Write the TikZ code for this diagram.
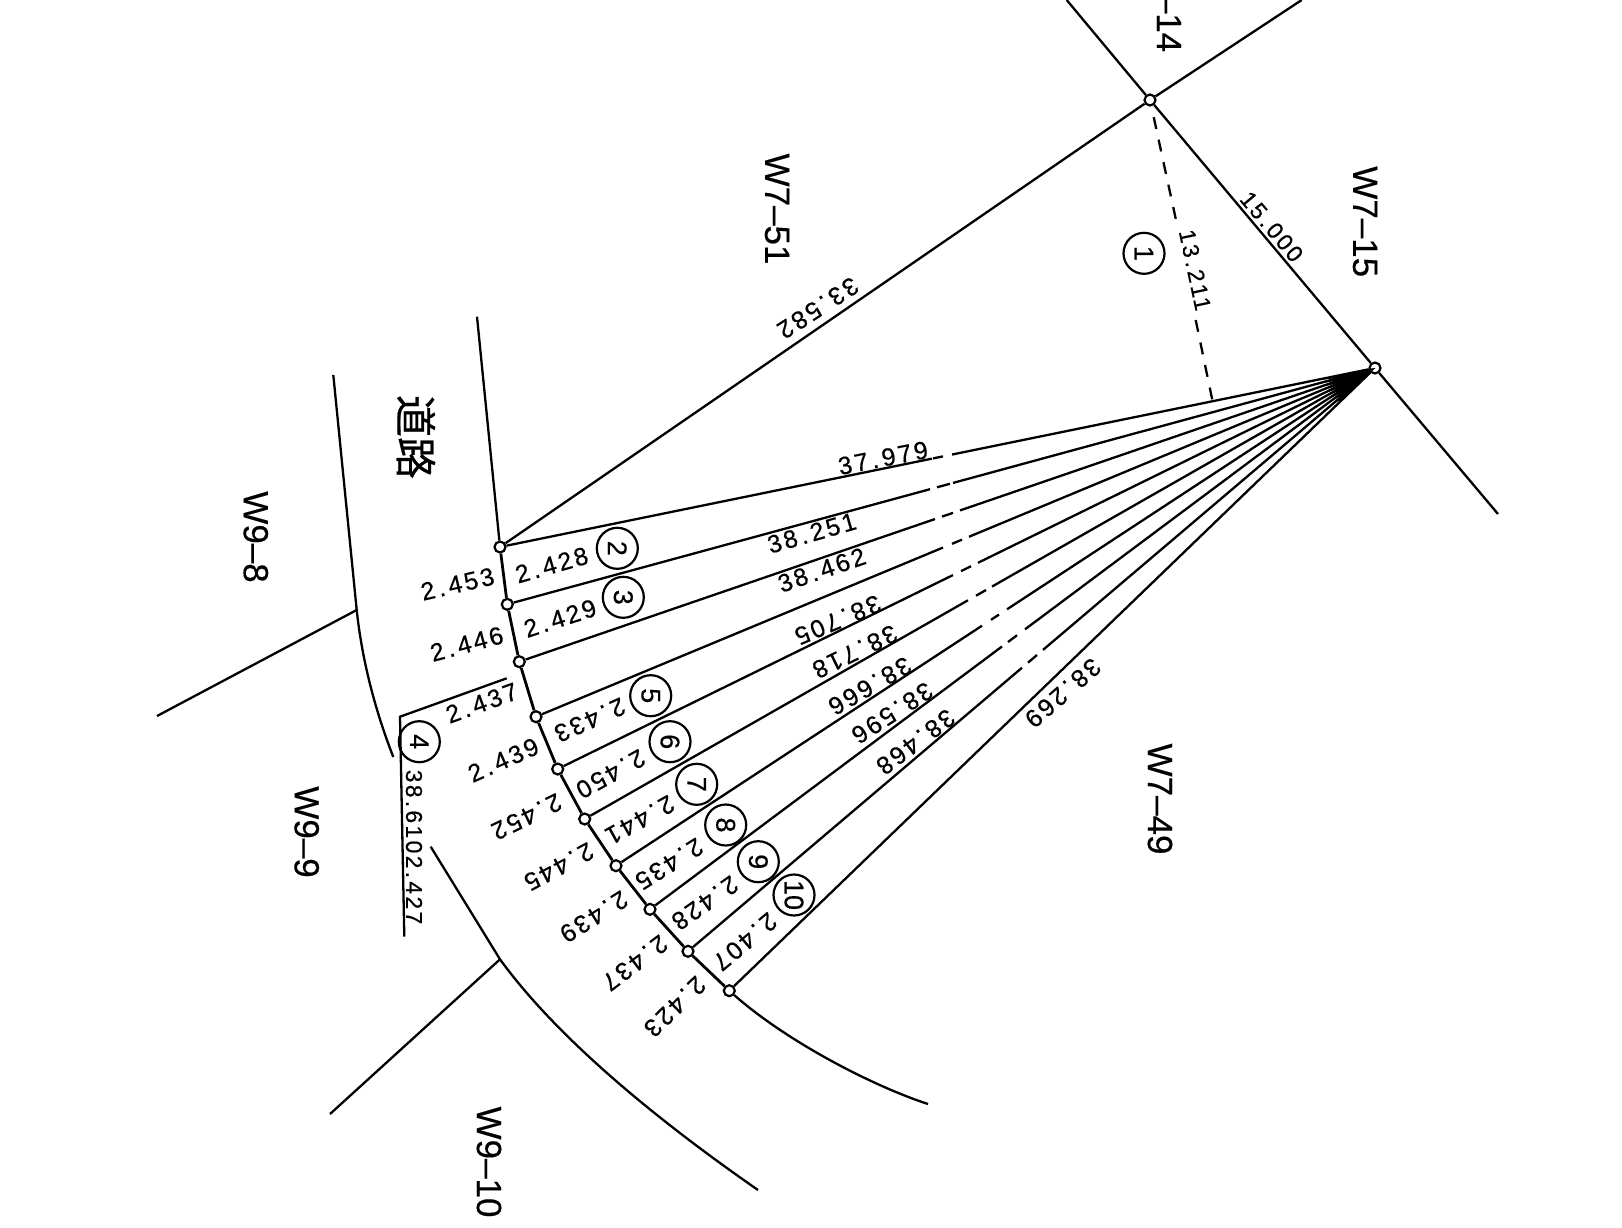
\documentclass[tikz,border=0pt]{standalone}
\usepackage{fontspec}
\setmainfont[FakeBold=0.4]{Liberation Sans}
\newfontfamily\dimfont[LetterSpace=10,FakeBold=0.5]{Liberation Sans}
\newfontfamily\cjkfont[FakeBold=0.4]{Noto Sans CJK JP}
\usetikzlibrary{calc}
\newcommand{\dm}[2]{#1\kern0.14em.\kern0.14em#2}
\newcommand{\fanline}[6]{%
  \draw[ln] (#1) -- ($(#1)!{(#3-#2)/(1375-#2)}!(A)$);
  \draw[ln] ($(#1)!{(#4-#2)/(1375-#2)}!(A)$) -- ($(#1)!{(#5-#2)/(1375-#2)}!(A)$);
  \draw[ln] ($(#1)!{(#6-#2)/(1375-#2)}!(A)$) -- (A);
}
\tikzset{
  ln/.style={line width=2.3pt,black},
  stn/.style={circle,draw=black,fill=white,line width=2.2pt,minimum size=11pt,inner sep=0pt},
  dimlab/.style={inner sep=0pt,font=\dimfont\fontsize{25}{25}\selectfont},
  dimsmall/.style={inner sep=0pt,font=\dimfont\fontsize{23}{23}\selectfont},
  parcel/.style={inner sep=0pt,rotate=-90,font=\fontsize{35}{35}\selectfont},
  lot/.style={circle,draw=black,line width=2.2pt,minimum size=41pt,inner sep=0pt,rotate=-90,font=\fontsize{27}{27}\selectfont},
}
\begin{document}
\begin{tikzpicture}[x=1pt,y=-1pt]
\useasboundingbox (0,0) rectangle (1622,1227);
\clip (0,0) rectangle (1622,1227);
\fill[white] (0,0) rectangle (1622,1227);
% stations
\node[stn] (T) at (1150,100) {};
\node[stn] (A) at (1375,368) {};
\node[stn] (P0) at (500,547) {};
\node[stn] (P1) at (507.3,604.3) {};
\node[stn] (P2) at (519.3,661.7) {};
\node[stn] (P3) at (536,716.7) {};
\node[stn] (P4) at (557.7,769) {};
\node[stn] (P5) at (584.7,819) {};
\node[stn] (P6) at (616,865.7) {};
\node[stn] (P7) at (650,909.3) {};
\node[stn] (P8) at (688,951.3) {};
\node[stn] (P9) at (729.3,990.7) {};
% free ends
\coordinate (tl) at (1066.7,0);
\coordinate (tr) at (1301.7,0);
\coordinate (ar) at (1498,514);
\coordinate (d1) at (1176,220);
\coordinate (d2) at (1195.7,320);
\coordinate (d3) at (1212.3,400);
\coordinate (roadtop) at (477,316.7);
\coordinate (r1) at (333.3,375);
\coordinate (J1) at (356.7,610);
\coordinate (r2) at (393.3,757);
\coordinate (j1end) at (157,716);
\coordinate (B1) at (400,716.7);
\coordinate (B2) at (506.7,678.3);
\coordinate (B3) at (404.3,936.7);
\coordinate (c1) at (430.7,846.7);
\coordinate (J2) at (500,959.3);
\coordinate (c2) at (758,1190);
\coordinate (j2end) at (330,1114);
\coordinate (c3) at (928,1104);
% fan wedge: saw-toothed solid where the lines merge
\foreach \i/\j in {P0/P1,P1/P2,P2/P3,P3/P4,P4/P5,P5/P6,P6/P7,P7/P8,P8/P9}{
  \fill[black] (A.center) -- ($(A.center)!62pt!(\i)$) -- ($(A.center)!38pt!(\j)$) -- cycle;
}
\fill[black] (A.center) -- ($(A.center)!38pt!(P0)$) -- ($(A.center)!50pt!(P9)$) -- cycle;
% boundaries
\draw[ln] (T) -- (tl);
\draw[ln] (T) -- (tr);
\draw[ln] (T) -- (A);
\draw[ln] (T) -- (P0);
\draw[ln] (A) -- (ar);
\draw[ln,dash pattern=on 12pt off 11pt,shorten <=11pt] (T) -- (d1);
\draw[ln,dash pattern=on 12pt off 11pt] (d2) -- (d3);
\draw[ln] (roadtop) -- (P0);
\draw[ln] (r1) -- (J1) .. controls (362,660) and (375,710) .. (r2);
\draw[ln] (J1) -- (j1end);
\draw[ln] (B2) -- (B1) -- (B3);
\draw[ln] (c1) -- (J2) .. controls (555,1035) and (650,1115) .. (c2);
\draw[ln] (J2) -- (j2end);
\draw[ln] (P9) .. controls (785,1040) and (870,1085) .. (c3);
\draw[ln,line width=2.8pt] (P0) -- (P1);
\draw[ln,line width=2.8pt] (P1) -- (P2);
\draw[ln,line width=2.8pt] (P2) -- (P3);
\draw[ln,line width=2.8pt] (P3) -- (P4);
\draw[ln,line width=2.8pt] (P4) -- (P5);
\draw[ln,line width=2.8pt] (P5) -- (P6);
\draw[ln,line width=2.8pt] (P6) -- (P7);
\draw[ln,line width=2.8pt] (P7) -- (P8);
\draw[ln,line width=2.8pt] (P8) -- (P9);
% fan
\fanline{P0}{500}{932}{933}{943}{952}
\fanline{P1}{507.3}{930}{937}{950}{953}
\fanline{P2}{519.3}{935}{942}{953}{960}
\fanline{P3}{536}{943}{952}{962}{969}
\fanline{P4}{557.7}{953}{961}{971}{978}
\fanline{P5}{584.7}{968}{976}{986}{992}
\fanline{P6}{616}{982}{991}{999}{1007}
\fanline{P7}{650}{1002}{1008}{1017}{1025}
\fanline{P8}{688}{1022}{1028}{1037}{1043}
\draw[ln] (P9) -- (A);
% parcel labels
\node[parcel] (w714) at (1169,23) {–14};
\node[parcel] (w715) at (1365,221.7) {W7–15};
\node[parcel] (w751) at (777,209) {W7–51};
\node[parcel] (w749) at (1160,799) {W7–49};
\node[parcel] (w98) at (255.8,537) {W9–8};
\node[parcel] (w99) at (306.7,832) {W9–9};
\node[parcel] (w910) at (489,1162) {W9–10};
\node[inner sep=0pt,rotate=-90,font=\cjkfont\fontsize{42}{42}\selectfont] (road) at (416,437) {道路};
% circled lots
\node[lot] (L1) at (1144,253.3) {1};
\node[lot] (L2) at (617.3,548.3) {2};
\node[lot] (L3) at (623.3,597.3) {3};
\node[lot] (L4) at (419.3,741.7) {4};
\node[lot] (L5) at (650.7,695.7) {5};
\node[lot] (L6) at (670,741.7) {6};
\node[lot] (L7) at (696.7,784.3) {7};
\node[lot] (L8) at (725.7,825) {8};
\node[lot] (L9) at (758.3,861.7) {9};
\node[lot] (L10) at (794,895) {10};
% long dimensions
\node[dimlab,rotate=11] (a1) at (883,458) {\dm{37}{979}};
\node[dimlab,rotate=16] (a2) at (811.7,533) {\dm{38}{251}};
\node[dimlab,rotate=19] (a3) at (821.7,570) {\dm{38}{462}};
\node[dimlab,rotate=203] (a4) at (838,620) {\dm{38}{705}};
\node[dimlab,rotate=206] (a5) at (855,651.7) {\dm{38}{718}};
\node[dimlab,rotate=210] (a6) at (870,686) {\dm{38}{666}};
\node[dimlab,rotate=213] (a7) at (892.3,713) {\dm{38}{596}};
\node[dimlab,rotate=217] (a8) at (915.7,742) {\dm{38}{468}};
\node[dimlab,rotate=221] (a9) at (1063,693) {\dm{38}{269}};
\node[dimlab,rotate=213] (a10) at (818,308) {\dm{33}{582}};
\node[dimsmall,rotate=-50] (a11) at (1271.7,226.7) {\dm{15}{000}};
\node[dimsmall,rotate=-78] (a12) at (1195,270) {\dm{13}{211}};
\node[dimsmall,rotate=-90] (a13) at (414,847) {\dm{38}{610}\dm{2}{427}};
% short dimensions
\node[dimlab,rotate=13] (b1) at (457.5,584) {\dm{2}{453}};
\node[dimlab,rotate=16] (b2) at (551.7,565) {\dm{2}{428}};
\node[dimlab,rotate=15] (b3) at (466.7,644) {\dm{2}{446}};
\node[dimlab,rotate=18] (b4) at (560,618.3) {\dm{2}{429}};
\node[dimlab,rotate=20] (b5) at (481.7,703) {\dm{2}{437}};
\node[dimlab,rotate=204] (b6) at (590,720) {\dm{2}{433}};
\node[dimlab,rotate=24] (b7) at (503.3,760) {\dm{2}{439}};
\node[dimlab,rotate=209] (b8) at (610.7,774) {\dm{2}{450}};
\node[dimlab,rotate=206] (b9) at (526.7,816.7) {\dm{2}{452}};
\node[dimlab,rotate=209] (b10) at (640,820) {\dm{2}{441}};
\node[dimlab,rotate=208] (b11) at (559,866.7) {\dm{2}{445}};
\node[dimlab,rotate=212] (b12) at (669.3,864) {\dm{2}{435}};
\node[dimlab,rotate=212] (b13) at (594,916.7) {\dm{2}{439}};
\node[dimlab,rotate=215] (b14) at (705,903) {\dm{2}{428}};
\node[dimlab,rotate=217] (b15) at (635,963) {\dm{2}{437}};
\node[dimlab,rotate=220] (b16) at (745,941.7) {\dm{2}{407}};
\node[dimlab,rotate=224] (b17) at (675,1006.7) {\dm{2}{423}};
\end{tikzpicture}
\end{document}
